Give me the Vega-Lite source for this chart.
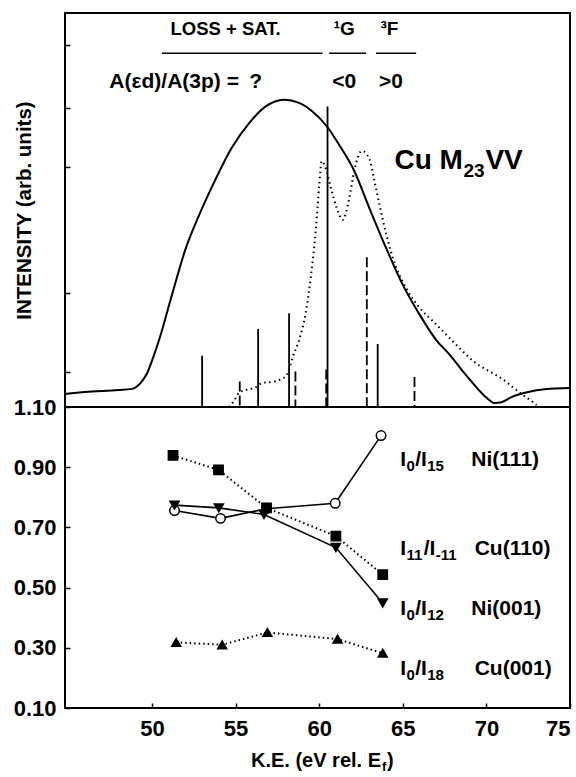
{
  "$schema": "https://vega.github.io/schema/vega-lite/v6.json",
  "padding": {"left": 12, "top": 12, "right": 5, "bottom": 0},
  "background": "white",
  "spacing": 0,
  "bounds": "flush",
  "config": {
    "view": {"stroke": "black", "strokeWidth": 2},
    "font": "Liberation Sans",
    "axis": {"domain": false, "grid": false, "labelFont": "Liberation Sans", "labelFontWeight": "bold", "labelFontSize": 22, "labelColor": "black", "tickColor": "black", "tickWidth": 1.5, "titleFont": "Liberation Sans", "titleFontWeight": "bold", "titleColor": "black"},
    "text": {"font": "Liberation Sans", "fontWeight": "bold", "color": "black"}
  },
  "datasets": {
    "solid": [
      {"ke": 44.8, "intensity": 3.3}, {"ke": 46.0, "intensity": 3.8}, {"ke": 48.0, "intensity": 4.3},
      {"ke": 48.8, "intensity": 4.6}, {"ke": 49.3, "intensity": 6.0}, {"ke": 49.7, "intensity": 8.5},
      {"ke": 50.0, "intensity": 11.7}, {"ke": 50.5, "intensity": 18}, {"ke": 51.0, "intensity": 25.5},
      {"ke": 51.5, "intensity": 33}, {"ke": 52.0, "intensity": 40}, {"ke": 52.8, "intensity": 48.5},
      {"ke": 53.6, "intensity": 56}, {"ke": 54.8, "intensity": 66}, {"ke": 55.8, "intensity": 72},
      {"ke": 56.8, "intensity": 76.3}, {"ke": 57.9, "intensity": 78}, {"ke": 58.8, "intensity": 77.2},
      {"ke": 59.6, "intensity": 75}, {"ke": 60.5, "intensity": 71}, {"ke": 61.2, "intensity": 66.5},
      {"ke": 62.1, "intensity": 59.9}, {"ke": 63.0, "intensity": 50.5}, {"ke": 64.0, "intensity": 40.4},
      {"ke": 65.0, "intensity": 31}, {"ke": 66.0, "intensity": 23.5}, {"ke": 67.0, "intensity": 17},
      {"ke": 67.8, "intensity": 13.3}, {"ke": 68.6, "intensity": 9}, {"ke": 69.4, "intensity": 5},
      {"ke": 70.0, "intensity": 2.4}, {"ke": 70.5, "intensity": 1.0}, {"ke": 70.9, "intensity": 1.2},
      {"ke": 71.5, "intensity": 2.5}, {"ke": 72.5, "intensity": 3.8}, {"ke": 73.5, "intensity": 4.5},
      {"ke": 75.0, "intensity": 4.8}
    ],
    "dotted": [
      {"ke": 54.6, "intensity": 0}, {"ke": 54.9, "intensity": 1.5}, {"ke": 55.2, "intensity": 3.6},
      {"ke": 55.6, "intensity": 4.3}, {"ke": 56.2, "intensity": 5}, {"ke": 56.6, "intensity": 6.1},
      {"ke": 57.2, "intensity": 6.4}, {"ke": 57.6, "intensity": 6.8}, {"ke": 58.1, "intensity": 8.4},
      {"ke": 58.4, "intensity": 12.5}, {"ke": 58.8, "intensity": 17}, {"ke": 59.2, "intensity": 24},
      {"ke": 59.5, "intensity": 33}, {"ke": 59.8, "intensity": 45}, {"ke": 60.0, "intensity": 56},
      {"ke": 60.15, "intensity": 62.4}, {"ke": 60.4, "intensity": 60.5}, {"ke": 60.7, "intensity": 55.6},
      {"ke": 61.05, "intensity": 50.5}, {"ke": 61.4, "intensity": 47.5}, {"ke": 61.8, "intensity": 53},
      {"ke": 62.1, "intensity": 60}, {"ke": 62.55, "intensity": 65}, {"ke": 63.0, "intensity": 63},
      {"ke": 63.3, "intensity": 57.4}, {"ke": 63.6, "intensity": 51.5}, {"ke": 64.0, "intensity": 44},
      {"ke": 64.6, "intensity": 35.5}, {"ke": 65.2, "intensity": 30.2}, {"ke": 66.0, "intensity": 25.2},
      {"ke": 66.8, "intensity": 21.8}, {"ke": 67.8, "intensity": 17.5}, {"ke": 68.5, "intensity": 14.5},
      {"ke": 69.2, "intensity": 11.7}, {"ke": 70.2, "intensity": 9}, {"ke": 71.0, "intensity": 7},
      {"ke": 71.5, "intensity": 5.3}, {"ke": 72.2, "intensity": 3}, {"ke": 72.8, "intensity": 1.2},
      {"ke": 73.0, "intensity": 0.5}
    ],
    "sticks": [
      {"ke": 53.0, "height": 13, "style": "solid"},
      {"ke": 55.25, "height": 6.5, "style": "dashed"},
      {"ke": 56.35, "height": 19.8, "style": "solid"},
      {"ke": 58.2, "height": 23.8, "style": "solid"},
      {"ke": 58.58, "height": 9, "style": "dashed"},
      {"ke": 60.5, "height": 76.3, "style": "solid"},
      {"ke": 60.42, "height": 9.5, "style": "dashed"},
      {"ke": 62.85, "height": 38, "style": "dashed"},
      {"ke": 63.5, "height": 16, "style": "solid"},
      {"ke": 65.7, "height": 7.6, "style": "dashed"}
    ],
    "underlines": [
      {"from": 50.6, "to": 60.2},
      {"from": 60.6, "to": 62.8},
      {"from": 63.4, "to": 65.8}
    ],
    "ratios": [
      {"series": "Ni(111)", "ke": 51.35, "ratio": 0.756},
      {"series": "Ni(111)", "ke": 54.1, "ratio": 0.730},
      {"series": "Ni(111)", "ke": 56.85, "ratio": 0.762},
      {"series": "Ni(111)", "ke": 60.96, "ratio": 0.780},
      {"series": "Ni(111)", "ke": 63.7, "ratio": 1.005},
      {"series": "Cu(110)", "ke": 51.26, "ratio": 0.939},
      {"series": "Cu(110)", "ke": 53.98, "ratio": 0.891},
      {"series": "Cu(110)", "ke": 56.85, "ratio": 0.765},
      {"series": "Cu(110)", "ke": 61.0, "ratio": 0.671},
      {"series": "Cu(110)", "ke": 63.8, "ratio": 0.543},
      {"series": "Ni(001)", "ke": 51.35, "ratio": 0.774},
      {"series": "Ni(001)", "ke": 54.0, "ratio": 0.765},
      {"series": "Ni(001)", "ke": 56.7, "ratio": 0.743},
      {"series": "Ni(001)", "ke": 61.0, "ratio": 0.633},
      {"series": "Ni(001)", "ke": 63.8, "ratio": 0.449},
      {"series": "Cu(001)", "ke": 51.45, "ratio": 0.318},
      {"series": "Cu(001)", "ke": 54.2, "ratio": 0.310},
      {"series": "Cu(001)", "ke": 56.9, "ratio": 0.351},
      {"series": "Cu(001)", "ke": 61.1, "ratio": 0.329},
      {"series": "Cu(001)", "ke": 63.8, "ratio": 0.282}
    ],
    "one": [{}]
  },
  "vconcat": [
    {
      "width": 505,
      "height": 394,
      "layer": [
        {
          "data": {"name": "solid"},
          "mark": {"type": "line", "color": "black", "strokeWidth": 2, "interpolate": "monotone"},
          "encoding": {
            "x": {"field": "ke", "type": "quantitative", "scale": {"domain": [44.8, 75], "nice": false, "zero": false}, "axis": null},
            "y": {"field": "intensity", "type": "quantitative", "scale": {"domain": [0, 100], "nice": false},
                  "axis": {"title": "INTENSITY (arb. units)", "titleFontSize": 20.5, "labels": false, "values": [9, 29, 61, 76, 92], "tickSize": -5, "titlePadding": 30}}
          }
        },
        {
          "data": {"name": "dotted"},
          "mark": {"type": "line", "color": "black", "strokeWidth": 2, "strokeDash": [1.5, 3.5], "interpolate": "monotone"},
          "encoding": {
            "x": {"field": "ke", "type": "quantitative"},
            "y": {"field": "intensity", "type": "quantitative"}
          }
        },
        {
          "data": {"name": "sticks"},
          "mark": {"type": "rule", "color": "black", "strokeWidth": 1.8},
          "encoding": {
            "x": {"field": "ke", "type": "quantitative"},
            "y": {"field": "height", "type": "quantitative"},
            "y2": {"datum": 0},
            "strokeDash": {"field": "style", "type": "nominal", "scale": {"domain": ["solid", "dashed"], "range": [[1, 0], [10, 4]]}, "legend": null}
          }
        },
        {
          "data": {"name": "underlines"},
          "mark": {"type": "rule", "color": "black", "strokeWidth": 1.5},
          "encoding": {
            "x": {"field": "from", "type": "quantitative"},
            "x2": {"field": "to"},
            "y": {"datum": 89.8}
          }
        },
        {"data": {"name": "one"}, "mark": {"type": "text", "fontSize": 18.5, "align": "center", "baseline": "middle"}, "encoding": {"x": {"datum": 54.4}, "y": {"datum": 95.9}, "text": {"value": "LOSS + SAT."}}},
        {"data": {"name": "one"}, "mark": {"type": "text", "fontSize": 19, "align": "center", "baseline": "middle"}, "encoding": {"x": {"datum": 61.5}, "y": {"datum": 95.9}, "text": {"value": "¹G"}}},
        {"data": {"name": "one"}, "mark": {"type": "text", "fontSize": 19, "align": "center", "baseline": "middle"}, "encoding": {"x": {"datum": 64.2}, "y": {"datum": 95.9}, "text": {"value": "³F"}}},
        {"data": {"name": "one"}, "mark": {"type": "text", "fontSize": 21, "align": "right", "baseline": "middle"}, "encoding": {"x": {"datum": 55.2}, "y": {"datum": 82.5}, "text": {"value": "A(εd)/A(3p) ="}}},
        {"data": {"name": "one"}, "mark": {"type": "text", "fontSize": 21, "align": "center", "baseline": "middle"}, "encoding": {"x": {"datum": 56.2}, "y": {"datum": 82.5}, "text": {"value": "?"}}},
        {"data": {"name": "one"}, "mark": {"type": "text", "fontSize": 21, "align": "center", "baseline": "middle"}, "encoding": {"x": {"datum": 61.5}, "y": {"datum": 82.5}, "text": {"value": "<0"}}},
        {"data": {"name": "one"}, "mark": {"type": "text", "fontSize": 21, "align": "center", "baseline": "middle"}, "encoding": {"x": {"datum": 64.3}, "y": {"datum": 82.5}, "text": {"value": ">0"}}},
        {"data": {"name": "one"}, "mark": {"type": "text", "fontSize": 28, "align": "left", "baseline": "middle"}, "encoding": {"x": {"datum": 64.5}, "y": {"datum": 62.4}, "text": {"value": "Cu M"}}},
        {"data": {"name": "one"}, "mark": {"type": "text", "fontSize": 19, "align": "left", "baseline": "middle", "dx": 69, "dy": 10}, "encoding": {"x": {"datum": 64.5}, "y": {"datum": 62.4}, "text": {"value": "23"}}},
        {"data": {"name": "one"}, "mark": {"type": "text", "fontSize": 28, "align": "left", "baseline": "middle", "dx": 91}, "encoding": {"x": {"datum": 64.5}, "y": {"datum": 62.4}, "text": {"value": "VV"}}}
      ]
    },
    {
      "width": 505,
      "height": 301,
      "layer": [
        {
          "data": {"name": "ratios"},
          "transform": [{"filter": {"field": "series", "oneOf": ["Ni(111)", "Ni(001)"]}}],
          "mark": {"type": "line", "color": "black", "strokeWidth": 1.6},
          "encoding": {
            "x": {"field": "ke", "type": "quantitative", "scale": {"domain": [44.8, 75], "nice": false, "zero": false},
                  "axis": {"title": null, "values": [50, 55, 60, 65, 70, 75], "tickSize": -5, "labelPadding": 15, "labelFlush": true}},
            "y": {"field": "ratio", "type": "quantitative", "scale": {"domain": [0.1, 1.1], "nice": false, "zero": false},
                  "axis": {"title": null, "values": [0.1, 0.3, 0.5, 0.7, 0.9, 1.1], "format": ".2f", "tickSize": -5, "labelPadding": 14}},
            "detail": {"field": "series", "type": "nominal"}
          }
        },
        {
          "data": {"name": "ratios"},
          "transform": [{"filter": {"field": "series", "oneOf": ["Cu(110)", "Cu(001)"]}}],
          "mark": {"type": "line", "color": "black", "strokeWidth": 2, "strokeDash": [1.5, 3]},
          "encoding": {
            "x": {"field": "ke", "type": "quantitative"},
            "y": {"field": "ratio", "type": "quantitative"},
            "detail": {"field": "series", "type": "nominal"}
          }
        },
        {
          "data": {"name": "ratios"},
          "mark": {"type": "point", "filled": true, "stroke": "black", "strokeWidth": 1.5, "opacity": 1},
          "encoding": {
            "x": {"field": "ke", "type": "quantitative"},
            "y": {"field": "ratio", "type": "quantitative"},
            "shape": {"field": "series", "type": "nominal", "scale": {"domain": ["Ni(111)", "Cu(110)", "Ni(001)", "Cu(001)"], "range": ["circle", "square", "triangle-down", "triangle-up"]}, "legend": null},
            "fill": {"field": "series", "type": "nominal", "scale": {"domain": ["Ni(111)", "Cu(110)", "Ni(001)", "Cu(001)"], "range": ["white", "black", "black", "black"]}, "legend": null},
            "size": {"field": "series", "type": "nominal", "scale": {"domain": ["Ni(111)", "Cu(110)", "Ni(001)", "Cu(001)"], "range": [90, 80, 65, 70]}, "legend": null}
          }
        },
        {"data": {"name": "one"}, "mark": {"type": "text", "fontSize": 21, "align": "left", "baseline": "middle"}, "encoding": {"x": {"datum": 64.85}, "y": {"datum": 0.925}, "text": {"value": "I"}}},
        {"data": {"name": "one"}, "mark": {"type": "text", "fontSize": 15, "align": "left", "baseline": "middle", "dx": 6.3, "dy": 6}, "encoding": {"x": {"datum": 64.85}, "y": {"datum": 0.925}, "text": {"value": "0"}}},
        {"data": {"name": "one"}, "mark": {"type": "text", "fontSize": 21, "align": "left", "baseline": "middle", "dx": 15}, "encoding": {"x": {"datum": 64.85}, "y": {"datum": 0.925}, "text": {"value": "/I"}}},
        {"data": {"name": "one"}, "mark": {"type": "text", "fontSize": 15, "align": "left", "baseline": "middle", "dx": 27, "dy": 6}, "encoding": {"x": {"datum": 64.85}, "y": {"datum": 0.925}, "text": {"value": "15"}}},
        {"data": {"name": "one"}, "mark": {"type": "text", "fontSize": 21, "align": "left", "baseline": "middle"}, "encoding": {"x": {"datum": 69.1}, "y": {"datum": 0.925}, "text": {"value": "Ni(111)"}}},

        {"data": {"name": "one"}, "mark": {"type": "text", "fontSize": 21, "align": "left", "baseline": "middle"}, "encoding": {"x": {"datum": 64.85}, "y": {"datum": 0.627}, "text": {"value": "I"}}},
        {"data": {"name": "one"}, "mark": {"type": "text", "fontSize": 15, "align": "left", "baseline": "middle", "dx": 6.3, "dy": 6}, "encoding": {"x": {"datum": 64.85}, "y": {"datum": 0.627}, "text": {"value": "11"}}},
        {"data": {"name": "one"}, "mark": {"type": "text", "fontSize": 21, "align": "left", "baseline": "middle", "dx": 23.4}, "encoding": {"x": {"datum": 64.85}, "y": {"datum": 0.627}, "text": {"value": "/I"}}},
        {"data": {"name": "one"}, "mark": {"type": "text", "fontSize": 15, "align": "left", "baseline": "middle", "dx": 35.5, "dy": 6}, "encoding": {"x": {"datum": 64.85}, "y": {"datum": 0.627}, "text": {"value": "-11"}}},
        {"data": {"name": "one"}, "mark": {"type": "text", "fontSize": 21, "align": "left", "baseline": "middle"}, "encoding": {"x": {"datum": 69.3}, "y": {"datum": 0.627}, "text": {"value": "Cu(110)"}}},

        {"data": {"name": "one"}, "mark": {"type": "text", "fontSize": 21, "align": "left", "baseline": "middle"}, "encoding": {"x": {"datum": 64.85}, "y": {"datum": 0.428}, "text": {"value": "I"}}},
        {"data": {"name": "one"}, "mark": {"type": "text", "fontSize": 15, "align": "left", "baseline": "middle", "dx": 6.3, "dy": 6}, "encoding": {"x": {"datum": 64.85}, "y": {"datum": 0.428}, "text": {"value": "0"}}},
        {"data": {"name": "one"}, "mark": {"type": "text", "fontSize": 21, "align": "left", "baseline": "middle", "dx": 15}, "encoding": {"x": {"datum": 64.85}, "y": {"datum": 0.428}, "text": {"value": "/I"}}},
        {"data": {"name": "one"}, "mark": {"type": "text", "fontSize": 15, "align": "left", "baseline": "middle", "dx": 27, "dy": 6}, "encoding": {"x": {"datum": 64.85}, "y": {"datum": 0.428}, "text": {"value": "12"}}},
        {"data": {"name": "one"}, "mark": {"type": "text", "fontSize": 21, "align": "left", "baseline": "middle"}, "encoding": {"x": {"datum": 69.1}, "y": {"datum": 0.428}, "text": {"value": "Ni(001)"}}},

        {"data": {"name": "one"}, "mark": {"type": "text", "fontSize": 21, "align": "left", "baseline": "middle"}, "encoding": {"x": {"datum": 64.85}, "y": {"datum": 0.229}, "text": {"value": "I"}}},
        {"data": {"name": "one"}, "mark": {"type": "text", "fontSize": 15, "align": "left", "baseline": "middle", "dx": 6.3, "dy": 6}, "encoding": {"x": {"datum": 64.85}, "y": {"datum": 0.229}, "text": {"value": "0"}}},
        {"data": {"name": "one"}, "mark": {"type": "text", "fontSize": 21, "align": "left", "baseline": "middle", "dx": 15}, "encoding": {"x": {"datum": 64.85}, "y": {"datum": 0.229}, "text": {"value": "/I"}}},
        {"data": {"name": "one"}, "mark": {"type": "text", "fontSize": 15, "align": "left", "baseline": "middle", "dx": 27, "dy": 6}, "encoding": {"x": {"datum": 64.85}, "y": {"datum": 0.229}, "text": {"value": "18"}}},
        {"data": {"name": "one"}, "mark": {"type": "text", "fontSize": 21, "align": "left", "baseline": "middle"}, "encoding": {"x": {"datum": 69.3}, "y": {"datum": 0.229}, "text": {"value": "Cu(001)"}}},

        {"data": {"name": "one"}, "mark": {"type": "text", "fontSize": 20, "align": "right", "baseline": "middle"}, "encoding": {"x": {"datum": 63.7}, "y": {"datum": -0.076}, "text": {"value": "K.E. (eV rel. E"}}},
        {"data": {"name": "one"}, "mark": {"type": "text", "fontSize": 13, "align": "left", "baseline": "middle", "dx": 1, "dy": 6}, "encoding": {"x": {"datum": 63.7}, "y": {"datum": -0.076}, "text": {"value": "f"}}},
        {"data": {"name": "one"}, "mark": {"type": "text", "fontSize": 20, "align": "left", "baseline": "middle", "dx": 6}, "encoding": {"x": {"datum": 63.7}, "y": {"datum": -0.076}, "text": {"value": ")"}}}
      ]
    }
  ]
}
